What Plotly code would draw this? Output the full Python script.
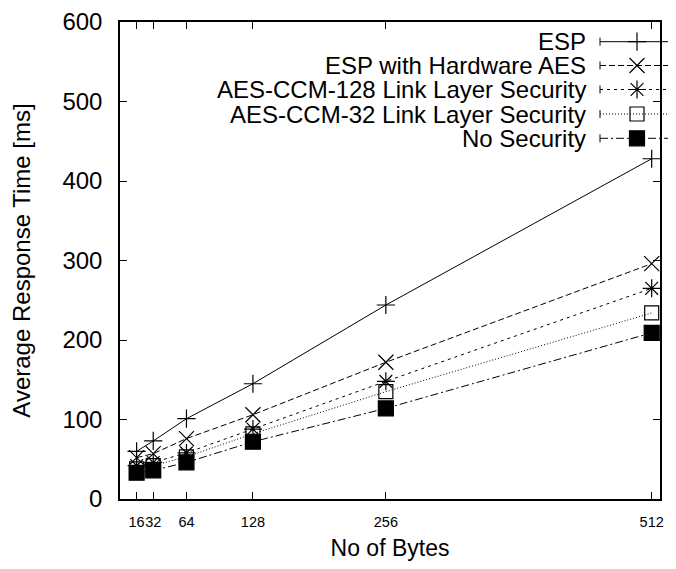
import plotly.graph_objects as go

# ---- data ----
n_bytes = [16, 32, 64, 128, 256, 512]
esp = [60, 73, 101, 145, 244, 428]
esp_hw_aes = [52, 57, 76, 106, 172, 296]
aes_ccm_128 = [42, 46, 58, 88, 148, 265]
aes_ccm_32 = [38, 42, 53, 82, 135, 234]
no_security = [33, 36, 46, 72, 114, 209]

series_names = ["ESP", "ESP with Hardware AES", "AES-CCM-128 Link Layer Security",
                "AES-CCM-32 Link Layer Security", "No Security"]
series_values = [esp, esp_hw_aes, aes_ccm_128, aes_ccm_32, no_security]
y_ticks = [0, 100, 200, 300, 400, 500, 600]

# ---- styles ----
dashes = ["solid", "6px,3px", "3px,4px", "1px,2px", "8px,3px,2px,3px"]
symbols = ["cross-thin", "x-thin", "asterisk", "square-open", "square"]
sizes = [13, 15, 15, 14, 15]

FONT = "Liberation Sans, Arial, sans-serif"
OFF = 8  # page body margin
W, H = 668, 553
L, R, T, B = 112, 16, 14, 62
PW, PH = W - L - R, H - T - B

fig = go.Figure()
for name, vals, d, s, sz in zip(series_names, series_values, dashes, symbols, sizes):
    fig.add_trace(go.Scatter(
        x=n_bytes, y=vals, mode="lines+markers", name=name,
        line=dict(color="black", width=1, dash=d),
        marker=dict(symbol=s, size=sz, color="black",
                    line=dict(color="black", width=1.2)),
        showlegend=False, cliponaxis=False))

# ---- manual legend (text right-aligned, sample on the right, as in reference) ----
row_px = [41.7, 65.5, 89.5, 114, 138.3]   # page pixel rows
def px_x(px):
    return (px - OFF - L) / PW
def px_y(py):
    return (T + PH - (py - OFF)) / PH

text_right = px_x(588)
line_x0, line_x1 = px_x(600), px_x(673)
mark_x = px_x(637)
shapes = []
annotations = []
for i, (name, d, s, sz) in enumerate(zip(series_names, dashes, symbols, sizes)):
    yy = px_y(row_px[i])
    annotations.append(dict(x=text_right, y=yy, xref="paper", yref="paper",
                            text=name, showarrow=False, xanchor="right", yanchor="middle",
                            font=dict(family=FONT, size=24, color="black")))
    shapes.append(dict(type="line", xref="paper", yref="paper", x0=line_x0, x1=line_x1,
                       y0=yy, y1=yy, line=dict(color="black", width=1, dash=d)))
    for xe in (line_x0, line_x1):
        shapes.append(dict(type="line", xref="paper", yref="paper", x0=xe, x1=xe,
                           y0=yy - 4 / PH, y1=yy + 4 / PH, line=dict(color="black", width=1)))
    fig.add_trace(go.Scatter(
        x=[mark_x], y=[yy], xaxis="x2", yaxis="y2", mode="markers",
        marker=dict(symbol=s, size=sz, color="black", line=dict(color="black", width=1.2)),
        showlegend=False, cliponaxis=False, hoverinfo="skip"))

fig.update_layout(
    width=W, height=H,
    margin=dict(l=L, r=R, t=T, b=B, autoexpand=False),
    paper_bgcolor="white", plot_bgcolor="white",
    font=dict(family=FONT, color="black"),
    showlegend=False,
    shapes=shapes, annotations=annotations,
    xaxis=dict(range=[0, 520], tickvals=n_bytes, ticktext=[str(v) for v in n_bytes],
               ticks="inside", ticklen=7, tickcolor="black", mirror="ticks", tickangle=0,
               showline=True, linecolor="black", linewidth=1.5, showgrid=False, zeroline=False,
               tickfont=dict(size=14.5), ticklabelstandoff=9, automargin=False,
               title=dict(text="No of Bytes", font=dict(size=23), standoff=16)),
    yaxis=dict(range=[0, 600], tickvals=y_ticks,
               ticks="inside", ticklen=7, tickcolor="black", mirror="ticks",
               showline=True, linecolor="black", linewidth=1.5, showgrid=False, zeroline=False,
               tickfont=dict(size=24), ticklabelstandoff=11, automargin=False,
               title=dict(text="Average Response Time [ms]", font=dict(size=24), standoff=28)),
    xaxis2=dict(range=[0, 1], overlaying="x", visible=False, domain=[0, 1]),
    yaxis2=dict(range=[0, 1], overlaying="y", visible=False, domain=[0, 1]),
)

fig.write_html("out.html")
